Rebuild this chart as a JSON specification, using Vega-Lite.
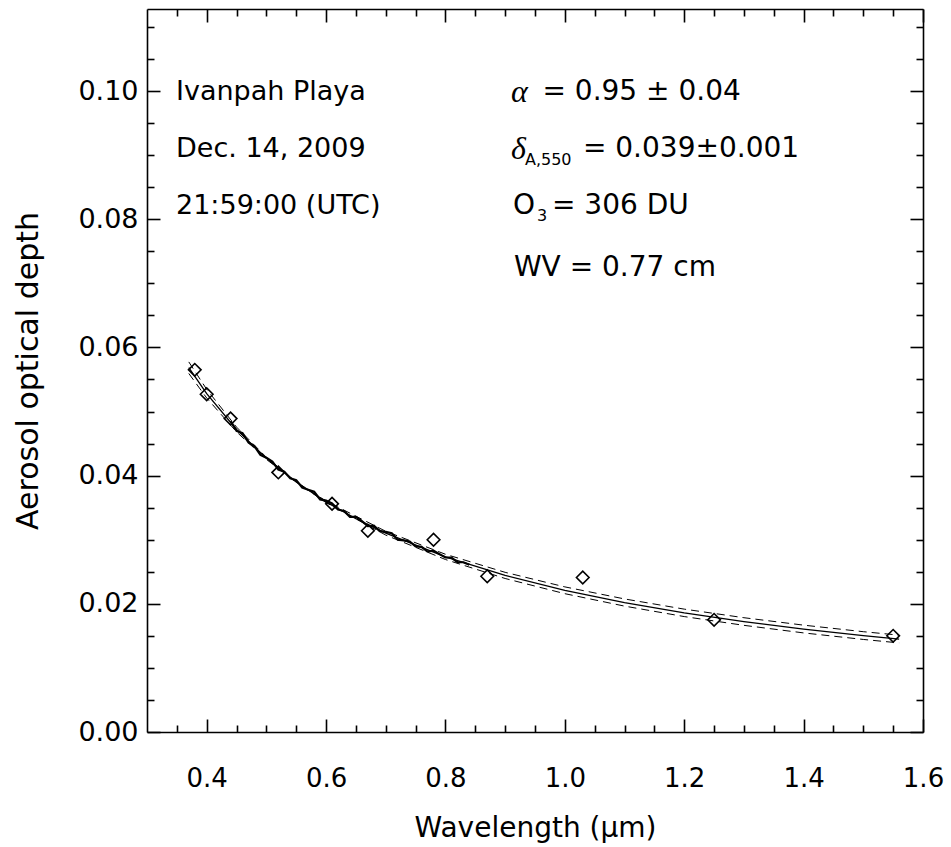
{
  "$schema": "https://vega.github.io/schema/vega-lite/v6.json",
  "width": 776,
  "height": 723,
  "autosize": {"type": "none"},
  "padding": {"left": 147, "top": 9, "right": 28, "bottom": 115},
  "background": "white",
  "config": {
    "view": {"stroke": null},
    "axis": {
      "domainColor": "black", "tickColor": "black", "labelColor": "black", "titleColor": "black",
      "labelFont": "DejaVu Sans", "titleFont": "DejaVu Sans", "labelFontSize": 26, "titleFontSize": 28,
      "titleFontWeight": "normal", "grid": false, "domainWidth": 1.6, "tickWidth": 1.6,
      "labelFlush": false, "labelOverlap": false
    }
  },
  "datasets": {
    "obs": [
      {"wl": 0.38, "aod": 0.0565}, {"wl": 0.40, "aod": 0.0527}, {"wl": 0.44, "aod": 0.0489},
      {"wl": 0.52, "aod": 0.0405}, {"wl": 0.61, "aod": 0.0356}, {"wl": 0.67, "aod": 0.0314},
      {"wl": 0.78, "aod": 0.0300}, {"wl": 0.87, "aod": 0.0243}, {"wl": 1.03, "aod": 0.0241},
      {"wl": 1.25, "aod": 0.0175}, {"wl": 1.55, "aod": 0.0150}
    ],
    "fit": [
      {"wl": 0.37, "aod": 0.05683}, {"wl": 0.40, "aod": 0.05278}, {"wl": 0.45, "aod": 0.04719},
      {"wl": 0.50, "aod": 0.04270}, {"wl": 0.55, "aod": 0.03900}, {"wl": 0.60, "aod": 0.03591},
      {"wl": 0.65, "aod": 0.03327}, {"wl": 0.70, "aod": 0.03102}, {"wl": 0.80, "aod": 0.02732},
      {"wl": 0.90, "aod": 0.02443}, {"wl": 1.00, "aod": 0.02210}, {"wl": 1.10, "aod": 0.02019},
      {"wl": 1.20, "aod": 0.01859}, {"wl": 1.30, "aod": 0.01723}, {"wl": 1.40, "aod": 0.01605},
      {"wl": 1.50, "aod": 0.01503}, {"wl": 1.56, "aod": 0.01448}
    ],
    "upper": [
      {"wl": 0.37, "aod": 0.05594}, {"wl": 0.40, "aod": 0.05211}, {"wl": 0.45, "aod": 0.04682},
      {"wl": 0.50, "aod": 0.04253}, {"wl": 0.55, "aod": 0.03900}, {"wl": 0.60, "aod": 0.03603},
      {"wl": 0.70, "aod": 0.03131}, {"wl": 0.80, "aod": 0.02773}, {"wl": 0.90, "aod": 0.02491},
      {"wl": 1.00, "aod": 0.02264}, {"wl": 1.10, "aod": 0.02076}, {"wl": 1.20, "aod": 0.01917},
      {"wl": 1.30, "aod": 0.01783}, {"wl": 1.40, "aod": 0.01667}, {"wl": 1.50, "aod": 0.01565},
      {"wl": 1.56, "aod": 0.01511}
    ],
    "lower": [
      {"wl": 0.37, "aod": 0.05774}, {"wl": 0.40, "aod": 0.05346}, {"wl": 0.45, "aod": 0.04757},
      {"wl": 0.50, "aod": 0.04286}, {"wl": 0.55, "aod": 0.03900}, {"wl": 0.60, "aod": 0.03578},
      {"wl": 0.70, "aod": 0.03072}, {"wl": 0.80, "aod": 0.02691}, {"wl": 0.90, "aod": 0.02395},
      {"wl": 1.00, "aod": 0.02158}, {"wl": 1.10, "aod": 0.01964}, {"wl": 1.20, "aod": 0.01801},
      {"wl": 1.30, "aod": 0.01664}, {"wl": 1.40, "aod": 0.01546}, {"wl": 1.50, "aod": 0.01444},
      {"wl": 1.56, "aod": 0.01390}
    ],
    "spectrum": [
      {"wl": 0.44, "aod": 0.04851}, {"wl": 0.45, "aod": 0.04699}, {"wl": 0.46, "aod": 0.04662},
      {"wl": 0.47, "aod": 0.04518}, {"wl": 0.48, "aod": 0.04458}, {"wl": 0.49, "aod": 0.04322},
      {"wl": 0.50, "aod": 0.04280}, {"wl": 0.51, "aod": 0.04220}, {"wl": 0.52, "aod": 0.04093},
      {"wl": 0.53, "aod": 0.04060}, {"wl": 0.54, "aod": 0.03959}, {"wl": 0.55, "aod": 0.03930},
      {"wl": 0.56, "aod": 0.03814}, {"wl": 0.57, "aod": 0.03780}, {"wl": 0.58, "aod": 0.03748},
      {"wl": 0.59, "aod": 0.03629}, {"wl": 0.60, "aod": 0.03611}, {"wl": 0.61, "aod": 0.03565},
      {"wl": 0.62, "aod": 0.03470}, {"wl": 0.63, "aod": 0.03448}, {"wl": 0.64, "aod": 0.03357},
      {"wl": 0.65, "aod": 0.03357}, {"wl": 0.66, "aod": 0.03290}, {"wl": 0.67, "aod": 0.03213},
      {"wl": 0.68, "aod": 0.03218}, {"wl": 0.69, "aod": 0.03134}, {"wl": 0.70, "aod": 0.03122},
      {"wl": 0.71, "aod": 0.03100}, {"wl": 0.72, "aod": 0.02999}, {"wl": 0.73, "aod": 0.02990},
      {"wl": 0.74, "aod": 0.02972}, {"wl": 0.75, "aod": 0.02895}, {"wl": 0.76, "aod": 0.02888},
      {"wl": 0.77, "aod": 0.02813}, {"wl": 0.78, "aod": 0.02829}, {"wl": 0.79, "aod": 0.02775},
      {"wl": 0.80, "aod": 0.02722}, {"wl": 0.81, "aod": 0.02720}, {"wl": 0.82, "aod": 0.02649},
      {"wl": 0.83, "aod": 0.02648}, {"wl": 0.84, "aod": 0.02608}
    ],
    "annLeft": [
      {"wl": 0.3486, "aod": 0.09985, "label": "Ivanpah Playa"},
      {"wl": 0.3486, "aod": 0.09101, "label": "Dec. 14, 2009"},
      {"wl": 0.3486, "aod": 0.08207, "label": "21:59:00 (UTC)"}
    ],
    "annRight": [
      {"wl": 0.9625, "aod": 0.09985, "label": "= 0.95 ± 0.04"},
      {"wl": 1.0303, "aod": 0.09101, "label": "= 0.039±0.001"},
      {"wl": 0.9131, "aod": 0.08207, "label": "O"},
      {"wl": 0.9784, "aod": 0.08207, "label": "= 306 DU"},
      {"wl": 0.9147, "aod": 0.07240, "label": "WV = 0.77 cm"}
    ],
    "greek": [
      {"wl": 0.9097, "aod": 0.09985, "label": "α"},
      {"wl": 0.9097, "aod": 0.09101, "label": "δ"}
    ],
    "subs": [
      {"wl": 0.9332, "aod": 0.08924, "label": "A,550"},
      {"wl": 0.9533, "aod": 0.08051, "label": "3"}
    ]
  },
  "layer": [
    {
      "data": {"name": "obs"},
      "mark": {"type": "point", "shape": "diamond", "filled": false, "stroke": "black", "strokeWidth": 1.6, "size": 160, "opacity": 1},
      "encoding": {
        "x": {"field": "wl", "type": "quantitative", "scale": {"domain": [0.3, 1.6], "nice": false, "zero": false},
          "axis": {"orient": "bottom", "values": [0.4, 0.6, 0.8, 1.0, 1.2, 1.4, 1.6], "format": ".1f", "tickSize": -13, "labelPadding": 46, "title": "Wavelength (μm)", "titleY": 96, "titleBaseline": "middle"}},
        "y": {"field": "aod", "type": "quantitative", "scale": {"domain": [0, 0.1128], "nice": false, "zero": false},
          "axis": {"orient": "left", "values": [0, 0.02, 0.04, 0.06, 0.08, 0.1], "format": ".2f", "tickSize": -13, "labelPadding": 22, "labelFontSize": 27, "title": "Aerosol optical depth", "titleFontSize": 30, "titleX": -119, "titleBaseline": "middle"}}
      }
    },
    {
      "data": {"name": "fit"},
      "mark": {"type": "line", "color": "black", "strokeWidth": 1.3},
      "encoding": {
        "x": {"field": "wl", "type": "quantitative", "scale": {"domain": [0.3, 1.6], "nice": false, "zero": false},
          "axis": {"orient": "top", "values": [0.4, 0.6, 0.8, 1.0, 1.2, 1.4, 1.6], "labels": false, "tickSize": -13, "title": null}},
        "y": {"field": "aod", "type": "quantitative", "scale": {"domain": [0, 0.1128], "nice": false, "zero": false},
          "axis": {"orient": "right", "values": [0, 0.02, 0.04, 0.06, 0.08, 0.1], "labels": false, "tickSize": -13, "title": null}}
      }
    },
    {
      "data": {"name": "upper"},
      "mark": {"type": "line", "color": "black", "strokeWidth": 1, "strokeDash": [8, 5]},
      "encoding": {
        "x": {"field": "wl", "type": "quantitative", "scale": {"domain": [0.3, 1.6], "nice": false, "zero": false},
          "axis": {"orient": "bottom", "values": [0.35, 0.45, 0.5, 0.55, 0.65, 0.7, 0.75, 0.85, 0.9, 0.95, 1.05, 1.1, 1.15, 1.25, 1.3, 1.35, 1.45, 1.5, 1.55], "labels": false, "domain": false, "tickSize": -7, "title": null}},
        "y": {"field": "aod", "type": "quantitative", "scale": {"domain": [0, 0.1128], "nice": false, "zero": false},
          "axis": {"orient": "left", "values": [0.005, 0.01, 0.015, 0.025, 0.03, 0.035, 0.045, 0.05, 0.055, 0.065, 0.07, 0.075, 0.085, 0.09, 0.095, 0.105, 0.11], "labels": false, "domain": false, "tickSize": -7, "title": null}}
      }
    },
    {
      "data": {"name": "lower"},
      "mark": {"type": "line", "color": "black", "strokeWidth": 1, "strokeDash": [8, 5]},
      "encoding": {
        "x": {"field": "wl", "type": "quantitative", "scale": {"domain": [0.3, 1.6], "nice": false, "zero": false},
          "axis": {"orient": "top", "values": [0.35, 0.45, 0.5, 0.55, 0.65, 0.7, 0.75, 0.85, 0.9, 0.95, 1.05, 1.1, 1.15, 1.25, 1.3, 1.35, 1.45, 1.5, 1.55], "labels": false, "domain": false, "tickSize": -7, "title": null}},
        "y": {"field": "aod", "type": "quantitative", "scale": {"domain": [0, 0.1128], "nice": false, "zero": false},
          "axis": {"orient": "right", "values": [0.005, 0.01, 0.015, 0.025, 0.03, 0.035, 0.045, 0.05, 0.055, 0.065, 0.07, 0.075, 0.085, 0.09, 0.095, 0.105, 0.11], "labels": false, "domain": false, "tickSize": -7, "title": null}}
      }
    },
    {
      "data": {"name": "spectrum"},
      "mark": {"type": "line", "color": "black", "strokeWidth": 2.2},
      "encoding": {
        "x": {"field": "wl", "type": "quantitative", "axis": null},
        "y": {"field": "aod", "type": "quantitative", "axis": null}
      }
    },
    {
      "data": {"name": "annLeft"},
      "mark": {"type": "text", "align": "left", "baseline": "middle", "font": "DejaVu Sans", "fontSize": 27, "color": "black"},
      "encoding": {
        "x": {"field": "wl", "type": "quantitative", "axis": null},
        "y": {"field": "aod", "type": "quantitative", "axis": null},
        "text": {"field": "label"}
      }
    },
    {
      "data": {"name": "annRight"},
      "mark": {"type": "text", "align": "left", "baseline": "middle", "font": "DejaVu Sans", "fontSize": 28, "color": "black"},
      "encoding": {
        "x": {"field": "wl", "type": "quantitative", "axis": null},
        "y": {"field": "aod", "type": "quantitative", "axis": null},
        "text": {"field": "label"}
      }
    },
    {
      "data": {"name": "greek"},
      "mark": {"type": "text", "align": "left", "baseline": "middle", "font": "Liberation Serif", "fontStyle": "italic", "fontSize": 32, "color": "black"},
      "encoding": {
        "x": {"field": "wl", "type": "quantitative", "axis": null},
        "y": {"field": "aod", "type": "quantitative", "axis": null},
        "text": {"field": "label"}
      }
    },
    {
      "data": {"name": "subs"},
      "mark": {"type": "text", "align": "left", "baseline": "middle", "font": "DejaVu Sans", "fontSize": 16, "color": "black"},
      "encoding": {
        "x": {"field": "wl", "type": "quantitative", "axis": null},
        "y": {"field": "aod", "type": "quantitative", "axis": null},
        "text": {"field": "label"}
      }
    }
  ],
  "resolve": {"axis": {"x": "independent", "y": "independent"}}
}
